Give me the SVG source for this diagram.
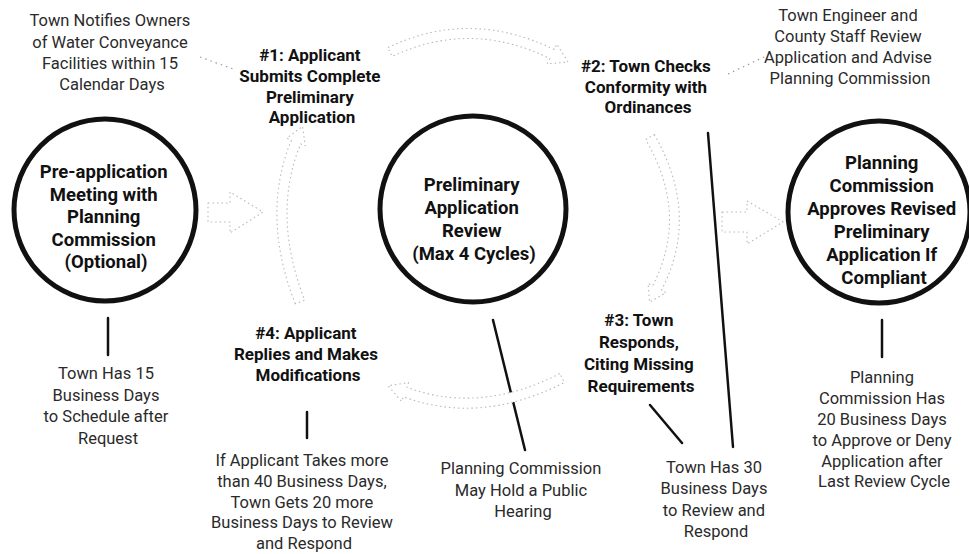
<svg xmlns="http://www.w3.org/2000/svg" width="969" height="554" viewBox="0 0 969 554">
  <style>
    .stage { fill: none; stroke: #111; stroke-width: 5; }
    .stage-text { font-family: Roboto, "Liberation Sans", sans-serif; font-weight: 700; font-size: 18.5px; fill: #111; text-anchor: middle; }
    .step-text { font-family: Roboto, "Liberation Sans", sans-serif; font-weight: 700; font-size: 17px; fill: #111; text-anchor: middle; }
    .note-text { font-family: Roboto, "Liberation Sans", sans-serif; font-weight: 400; font-size: 16.5px; fill: #2a2a2a; text-anchor: middle; }
    .leader { stroke: #111; stroke-width: 2.5; fill: none; stroke-linecap: round; }
    .dotted { stroke: #999; stroke-width: 1.2; fill: none; stroke-dasharray: 1.5 4; }
    .flow { fill: #fff; stroke: #b8b8b8; stroke-width: 1.1; stroke-dasharray: 1.5 3; stroke-linejoin: round; }
  </style>

  <!-- connectors: process arrows, leader lines and dotted pointers -->
  <g id="connectors">
    <!-- pre-application -> review cycle -->
    <path class="flow" d="M208,203 L230,203 L230,192 L263,212 L230,233 L230,222 L208,222 Z"/>
    <!-- review cycle -> approval -->
    <path class="flow" d="M722,212 L747,212 L747,201 L783,222 L747,244 L747,232 L722,232 Z"/>
    <!-- cycle arc: step 1 -> step 2 -->
    <path class="flow" d="M387.9,47.5 Q470,8.5 554.2,49.5 L556.8,44.1 L568,62 L547.2,63.9 L549.8,58.5 Q470,19.5 392.1,56.5 Z"/>
    <!-- cycle arc: step 2 -> step 3 -->
    <path class="flow" d="M654.3,134.5 Q700.5,215 661.4,290.3 L665.9,292.6 L649.6,302.2 L648.1,283.4 L652.6,285.7 Q689.5,215 645.7,139.5 Z"/>
    <!-- cycle arc: step 4 -> step 1 -->
    <path class="flow" d="M295.3,303.8 Q260.5,215 291.4,140.1 L286.8,138.2 L302.5,126.3 L305.3,145.8 L300.6,143.9 Q271.5,215 304.7,300.2 Z"/>

    <!-- leader lines -->
    <line class="leader" x1="108" y1="318" x2="108" y2="355"/>
    <line class="leader" x1="307" y1="412" x2="307" y2="438"/>
    <line class="leader" x1="493" y1="320" x2="525" y2="450"/>
    <line class="leader" x1="650" y1="405" x2="682" y2="443"/>
    <line class="leader" x1="708" y1="133" x2="733" y2="447"/>
    <line class="leader" x1="882" y1="320" x2="882" y2="357"/>

    <!-- cycle arc: step 3 -> step 4 (drawn over the hearing leader) -->
    <path class="flow" d="M559.7,373.6 Q480,414.5 406.8,387.3 L408.5,382.6 L388.1,385.7 L401.5,401.4 L403.3,396.7 Q480,425.5 564.3,382.5 Z"/>

    <!-- dotted pointers -->
    <line class="dotted" x1="200" y1="57" x2="236" y2="70"/>
    <line class="dotted" x1="728" y1="74" x2="764" y2="57"/>
  </g>

  <!-- main stages -->
  <g id="pre-application">
    <circle class="stage" cx="105" cy="210" r="91"/>
    <text class="stage-text">
      <tspan x="106" y="178">Pre-application</tspan>
      <tspan x="106" y="200.5">Meeting with</tspan>
      <tspan x="106" y="223">Planning</tspan>
      <tspan x="106" y="245.5">Commission</tspan>
      <tspan x="106" y="268">(Optional)</tspan>
    </text>
  </g>

  <g id="preliminary-review">
    <circle class="stage" cx="473" cy="209" r="93"/>
    <text class="stage-text">
      <tspan x="474" y="191">Preliminary</tspan>
      <tspan x="474" y="214">Application</tspan>
      <tspan x="474" y="237">Review</tspan>
      <tspan x="474" y="260">(Max 4 Cycles)</tspan>
    </text>
  </g>

  <g id="approval">
    <circle class="stage" cx="879" cy="212" r="91"/>
    <text class="stage-text">
      <tspan x="884" y="169">Planning</tspan>
      <tspan x="884" y="192">Commission</tspan>
      <tspan x="884" y="215">Approves Revised</tspan>
      <tspan x="884" y="238">Preliminary</tspan>
      <tspan x="884" y="261">Application If</tspan>
      <tspan x="884" y="284">Compliant</tspan>
    </text>
  </g>

  <!-- cycle steps -->
  <g id="step-1">
    <text class="step-text">
      <tspan x="312" y="61">#1: Applicant</tspan>
      <tspan x="312" y="82">Submits Complete</tspan>
      <tspan x="312" y="103">Preliminary</tspan>
      <tspan x="312" y="123">Application</tspan>
    </text>
  </g>

  <g id="step-2">
    <text class="step-text">
      <tspan x="648" y="72">#2: Town Checks</tspan>
      <tspan x="648" y="93">Conformity with</tspan>
      <tspan x="648" y="113">Ordinances</tspan>
    </text>
  </g>

  <g id="step-3">
    <text class="step-text">
      <tspan x="641" y="326">#3: Town</tspan>
      <tspan x="641" y="348">Responds,</tspan>
      <tspan x="641" y="370">Citing Missing</tspan>
      <tspan x="641" y="392">Requirements</tspan>
    </text>
  </g>

  <g id="step-4">
    <text class="step-text">
      <tspan x="308" y="339">#4: Applicant</tspan>
      <tspan x="308" y="360">Replies and Makes</tspan>
      <tspan x="308" y="381">Modifications</tspan>
    </text>
  </g>

  <!-- timing notes -->
  <g id="note-water-owners">
    <text class="note-text">
      <tspan x="112" y="26">Town Notifies Owners</tspan>
      <tspan x="112" y="48">of Water Conveyance</tspan>
      <tspan x="112" y="69">Facilities within 15</tspan>
      <tspan x="112" y="90">Calendar Days</tspan>
    </text>
  </g>

  <g id="note-engineer">
    <text class="note-text">
      <tspan x="850" y="21">Town Engineer and</tspan>
      <tspan x="850" y="42">County Staff Review</tspan>
      <tspan x="850" y="63">Application and Advise</tspan>
      <tspan x="850" y="84">Planning Commission</tspan>
    </text>
  </g>

  <g id="note-schedule">
    <text class="note-text">
      <tspan x="108" y="379">Town Has 15</tspan>
      <tspan x="108" y="401">Business Days</tspan>
      <tspan x="108" y="422">to Schedule after</tspan>
      <tspan x="108" y="444">Request</tspan>
    </text>
  </g>

  <g id="note-extension">
    <text class="note-text">
      <tspan x="304" y="466">If Applicant Takes more</tspan>
      <tspan x="304" y="487">than 40 Business Days,</tspan>
      <tspan x="304" y="508">Town Gets 20 more</tspan>
      <tspan x="304" y="528">Business Days to Review</tspan>
      <tspan x="304" y="549">and Respond</tspan>
    </text>
  </g>

  <g id="note-hearing">
    <text class="note-text">
      <tspan x="523" y="474">Planning Commission</tspan>
      <tspan x="523" y="496">May Hold a Public</tspan>
      <tspan x="523" y="517">Hearing</tspan>
    </text>
  </g>

  <g id="note-response">
    <text class="note-text">
      <tspan x="716" y="473">Town Has 30</tspan>
      <tspan x="716" y="494">Business Days</tspan>
      <tspan x="716" y="516">to Review and</tspan>
      <tspan x="716" y="537">Respond</tspan>
    </text>
  </g>

  <g id="note-decision">
    <text class="note-text">
      <tspan x="884" y="383">Planning</tspan>
      <tspan x="884" y="404">Commission Has</tspan>
      <tspan x="884" y="425">20 Business Days</tspan>
      <tspan x="884" y="446">to Approve or Deny</tspan>
      <tspan x="884" y="467">Application after</tspan>
      <tspan x="884" y="487">Last Review Cycle</tspan>
    </text>
  </g>
</svg>
